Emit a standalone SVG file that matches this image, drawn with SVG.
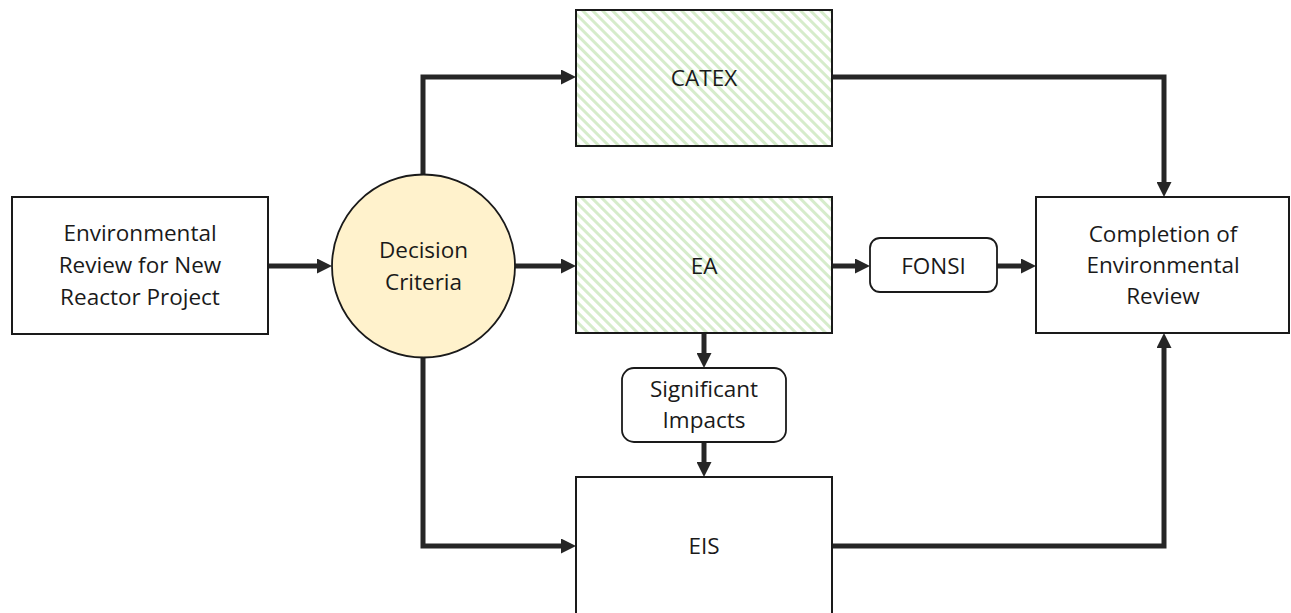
<svg xmlns="http://www.w3.org/2000/svg" width="1291" height="613" viewBox="0 0 1291 613">
  <style>
    .box { fill: #ffffff; stroke: #1a1a1a; stroke-width: 2; }
    .hatched { fill: url(#diag); stroke: #1a1a1a; stroke-width: 2; }
    .pill { fill: #ffffff; stroke: #1a1a1a; stroke-width: 1.8; }
    .decision { fill: #fff2cc; stroke: #1a1a1a; stroke-width: 1.8; }
    .label { font-family: "Open Sans", "Liberation Sans", sans-serif; font-size: 22.5px; fill: #1a1a1a; text-anchor: middle; }
    .link { fill: none; stroke: #262626; stroke-width: 5; stroke-linejoin: miter; marker-end: url(#arrow); }
  </style>
  <defs>
    <pattern id="diag" patternUnits="userSpaceOnUse" width="7" height="7" patternTransform="rotate(45)">
      <rect x="0" y="0" width="7" height="7" fill="#ffffff"/>
      <rect x="0" y="0" width="7" height="3" fill="#d6eccb"/>
    </pattern>
    <marker id="arrow" markerUnits="userSpaceOnUse" viewBox="0 0 15 15" markerWidth="15" markerHeight="15" refX="3" refY="7.5" orient="auto">
      <path d="M0,0 L15,7.5 L0,15 z" fill="#262626"/>
    </marker>
  </defs>

  <rect width="1291" height="613" fill="#ffffff"/>

  <!-- connectors -->
  <g id="connectors">
    <path class="link" d="M268,266 H320"/>
    <path class="link" d="M515,266 H564"/>
    <path class="link" d="M423,174 V77 H564"/>
    <path class="link" d="M423,358 V546 H564"/>
    <path class="link" d="M832,266 H858"/>
    <path class="link" d="M997,266 H1024"/>
    <path class="link" d="M832,77 H1164 V185"/>
    <path class="link" d="M832,546 H1164 V345"/>
    <path class="link" d="M704,333 V356"/>
    <path class="link" d="M704,442 V465"/>
  </g>

  <!-- start -->
  <g id="start">
    <rect class="box" x="12" y="197" width="256" height="137"/>
    <text class="label" x="140" y="241">Environmental</text>
    <text class="label" x="140" y="273">Review for New</text>
    <text class="label" x="140" y="305">Reactor Project</text>
  </g>

  <!-- decision -->
  <g id="decision">
    <circle class="decision" cx="423.5" cy="266" r="91.5"/>
    <text class="label" x="423.5" y="258">Decision</text>
    <text class="label" x="423.5" y="290">Criteria</text>
  </g>

  <!-- categorical exclusion -->
  <g id="catex">
    <rect class="hatched" x="576" y="10" width="256" height="136"/>
    <text class="label" x="704" y="86">CATEX</text>
  </g>

  <!-- environmental assessment -->
  <g id="ea">
    <rect class="hatched" x="576" y="197" width="256" height="136"/>
    <text class="label" x="704" y="274">EA</text>
  </g>

  <!-- finding of no significant impact -->
  <g id="fonsi">
    <rect class="pill" x="870" y="238" width="127" height="54" rx="10" ry="10"/>
    <text class="label" x="933.5" y="274">FONSI</text>
  </g>

  <!-- significant impacts -->
  <g id="impacts">
    <rect class="pill" x="622" y="368" width="164" height="74" rx="12" ry="12"/>
    <text class="label" x="704" y="397">Significant</text>
    <text class="label" x="704" y="428">Impacts</text>
  </g>

  <!-- environmental impact statement -->
  <g id="eis">
    <rect class="box" x="576" y="477" width="256" height="150"/>
    <text class="label" x="704" y="554">EIS</text>
  </g>

  <!-- completion -->
  <g id="completion">
    <rect class="box" x="1036" y="197" width="253" height="136"/>
    <text class="label" x="1163" y="242">Completion of</text>
    <text class="label" x="1163" y="273">Environmental</text>
    <text class="label" x="1163" y="304">Review</text>
  </g>
</svg>
